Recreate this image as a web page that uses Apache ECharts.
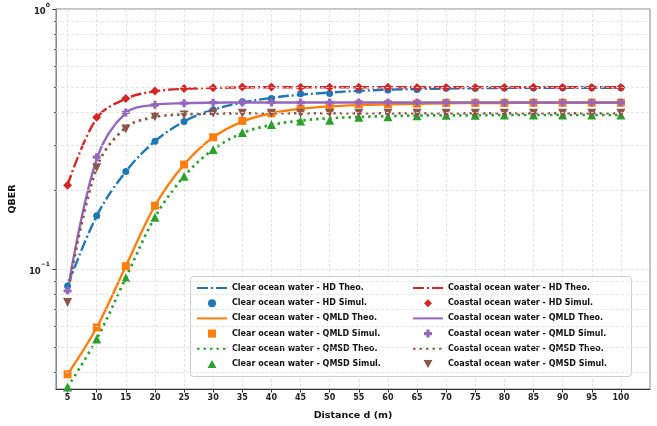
<!DOCTYPE html>
<html>
<head>
<meta charset="utf-8">
<script src="https://cdn.jsdelivr.net/npm/echarts@6/dist/echarts.min.js"></script>
<style>
  html, body { margin: 0; padding: 0; background: #fff; }
  #chart { width: 657px; height: 426px; }
</style>
</head>
<body>
<div id="chart"></div>
<script>
// distances (m)
const distances = [5, 10, 15, 20, 25, 30, 35, 40, 45, 50, 55, 60, 65, 70, 75, 80, 85, 90, 95, 100]
const xTicks = [5, 10, 15, 20, 25, 30, 35, 40, 45, 50, 55, 60, 65, 70, 75, 80, 85, 90, 95, 100]
const yMajor = [0.1, 1]
const yMinor = [0.04, 0.05, 0.06, 0.07, 0.08, 0.09, 0.2, 0.3, 0.4, 0.5, 0.6, 0.7, 0.8, 0.9]

// clear ocean water
const clearHdTheo = [0.0859, 0.160, 0.237, 0.310, 0.369, 0.410, 0.436, 0.455, 0.468, 0.477, 0.484, 0.489, 0.492, 0.494, 0.496, 0.497, 0.497, 0.498, 0.498, 0.498]
const clearHdSim = [0.0859, 0.160, 0.237, 0.310, 0.369, 0.409, 0.440, 0.452, 0.472, 0.473, 0.487, 0.488, 0.490, 0.495, 0.495, 0.497, 0.497, 0.498, 0.498, 0.498]
const clearQmldTheo = [0.0393, 0.0595, 0.1024, 0.175, 0.252, 0.321, 0.369, 0.397, 0.413, 0.422, 0.427, 0.430, 0.432, 0.434, 0.435, 0.435, 0.436, 0.436, 0.436, 0.436]
const clearQmldSim = [0.0393, 0.0595, 0.1024, 0.175, 0.252, 0.321, 0.371, 0.397, 0.414, 0.418, 0.430, 0.430, 0.432, 0.435, 0.435, 0.435, 0.436, 0.436, 0.436, 0.436]
const clearQmsdTheo = [0.0351, 0.0537, 0.0924, 0.158, 0.227, 0.288, 0.333, 0.358, 0.372, 0.380, 0.384, 0.387, 0.389, 0.390, 0.390, 0.391, 0.391, 0.391, 0.391, 0.391]
const clearQmsdSim = [0.0351, 0.0537, 0.0924, 0.158, 0.227, 0.288, 0.335, 0.359, 0.371, 0.373, 0.383, 0.385, 0.388, 0.390, 0.390, 0.391, 0.391, 0.391, 0.391, 0.391]

// coastal ocean water
const coastHdTheo = [0.210, 0.380, 0.452, 0.482, 0.493, 0.497, 0.499, 0.500, 0.500, 0.500, 0.500, 0.500, 0.500, 0.500, 0.500, 0.500, 0.500, 0.500, 0.500, 0.500]
const coastHdSim = [0.210, 0.383, 0.452, 0.484, 0.494, 0.498, 0.501, 0.501, 0.500, 0.500, 0.500, 0.500, 0.499, 0.499, 0.499, 0.499, 0.500, 0.499, 0.499, 0.499]
const coastQmldTheo = [0.0822, 0.265, 0.398, 0.428, 0.434, 0.436, 0.437, 0.437, 0.437, 0.437, 0.437, 0.437, 0.437, 0.437, 0.437, 0.437, 0.437, 0.437, 0.437, 0.437]
const coastQmldSim = [0.0822, 0.269, 0.400, 0.428, 0.434, 0.436, 0.437, 0.437, 0.437, 0.437, 0.437, 0.437, 0.437, 0.437, 0.437, 0.437, 0.437, 0.437, 0.437, 0.437]
const coastQmsdTheo = [0.0797, 0.245, 0.350, 0.384, 0.393, 0.396, 0.397, 0.397, 0.397, 0.397, 0.397, 0.397, 0.397, 0.397, 0.397, 0.397, 0.397, 0.397, 0.397, 0.397]
const coastQmsdSim = [0.0742, 0.245, 0.345, 0.385, 0.391, 0.397, 0.397, 0.397, 0.397, 0.397, 0.397, 0.397, 0.397, 0.397, 0.397, 0.397, 0.397, 0.397, 0.397, 0.397]

const FONT = 'DejaVu Sans'
const DASHDOT = [11, 3, 2, 3]
const DOTTED = [2.5, 4]
const SQUARE = 'path://M0,0H10V10H0Z'
const TRI_UP = 'path://M5,0L10,9H0Z'
const TRI_DOWN = 'path://M0,0H10L5,9Z'
const DIAMOND = 'path://M5,0L10,5L5,10L0,5Z'
const PLUS = 'path://M3,0H7V3H10V7H7V10H3V7H0V3H3Z'

const pairs = (ys) => distances.map((d, i) => [d, ys[i]])

function theo(name, ys, color, type) {
  return {
    name, type: 'line', data: pairs(ys), symbol: 'none', smooth: 0.35,
    lineStyle: { color, width: type === DOTTED ? 2.7 : 2.4, type },
    itemStyle: { color }, z: 2
  }
}
function simul(name, ys, color, symbol, size) {
  return {
    name, type: 'scatter', data: pairs(ys), symbol, symbolSize: size,
    itemStyle: { color, opacity: 1 }, z: 3
  }
}

const clearNames = [
  'Clear ocean water - HD Theo.', 'Clear ocean water - HD Simul.',
  'Clear ocean water - QMLD Theo.', 'Clear ocean water - QMLD Simul.',
  'Clear ocean water - QMSD Theo.', 'Clear ocean water - QMSD Simul.'
]
const coastNames = [
  'Coastal ocean water - HD Theo.', 'Coastal ocean water - HD Simul.',
  'Coastal ocean water - QMLD Theo.', 'Coastal ocean water - QMLD Simul.',
  'Coastal ocean water - QMSD Theo.', 'Coastal ocean water - QMSD Simul.'
]

const series = [
  theo(clearNames[0], clearHdTheo, '#1f77b4', DASHDOT),
  simul(clearNames[1], clearHdSim, '#1f77b4', 'circle', 7),
  theo(clearNames[2], clearQmldTheo, '#ff7f0e', 'solid'),
  simul(clearNames[3], clearQmldSim, '#ff7f0e', SQUARE, 8),
  theo(clearNames[4], clearQmsdTheo, '#2ca02c', DOTTED),
  simul(clearNames[5], clearQmsdSim, '#2ca02c', TRI_UP, 9),
  theo(coastNames[0], coastHdTheo, '#d62728', DASHDOT),
  simul(coastNames[1], coastHdSim, '#d62728', DIAMOND, 9),
  theo(coastNames[2], coastQmldTheo, '#9467bd', 'solid'),
  simul(coastNames[3], coastQmldSim, '#9467bd', PLUS, 8),
  theo(coastNames[4], coastQmsdTheo, '#8c564b', DOTTED),
  simul(coastNames[5], coastQmsdSim, '#8c564b', TRI_DOWN, 9)
]

// minor grid lines
series[0].markLine = {
  silent: true, symbol: 'none', label: { show: false },
  lineStyle: { color: '#dedede', type: [3, 2], width: 0.8 },
  data: yMinor.map(v => ({ yAxis: v }))
}

const legendIcons = ['circle', SQUARE, TRI_UP]
const legendIcons2 = [DIAMOND, PLUS, TRI_DOWN]
function legendData(names, icons) {
  return names.map((name, i) => (i % 2 === 0
    ? { name, itemStyle: { opacity: 0 } }
    : { name, icon: icons[(i - 1) / 2] }))
}

const legendCommon = {
  orient: 'vertical', padding: 0, itemWidth: 30, itemHeight: 8, itemGap: 6.2,
  symbolKeepAspect: true,
  textStyle: { fontFamily: FONT, fontWeight: 'bold', fontSize: 8, color: '#111', lineHeight: 9 },
  z: 5
}

const chart = echarts.init(document.getElementById('chart'))
chart.setOption({
  animation: false,
  backgroundColor: '#fff',
  grid: { left: 47, right: 7, top: 9, bottom: 33, show: true, borderColor: '#888', borderWidth: 1 },
  legend: [
    Object.assign({ left: 196, top: 283.5, data: legendData(clearNames, legendIcons) }, legendCommon),
    Object.assign({ left: 412, top: 283.5, data: legendData(coastNames, legendIcons2) }, legendCommon)
  ],
  graphic: [{
    type: 'rect', z: 4,
    shape: { x: 190.5, y: 276.5, width: 441, height: 100, r: 3 },
    style: { fill: 'rgba(255,255,255,0.85)', stroke: '#cccccc', lineWidth: 1 }
  }],
  xAxis: {
    type: 'value', min: 3, max: 105,
    name: 'Distance d (m)', nameLocation: 'middle', nameGap: 22,
    nameTextStyle: { fontFamily: FONT, fontWeight: 'bold', fontSize: 9.5, color: '#111' },
    axisLine: { lineStyle: { color: '#333', width: 1 } },
    axisTick: { show: true, customValues: xTicks, length: 3.5, lineStyle: { color: '#333' } },
    axisLabel: { customValues: xTicks, fontFamily: FONT, fontWeight: 'bold', fontSize: 8, color: '#222', margin: 5 },
    splitLine: { show: true, lineStyle: { color: '#dcdcdc', type: [3, 2], width: 0.8 } }
  },
  yAxis: [{
    type: 'log', logBase: 10, min: 0.0345, max: 1,
    name: 'QBER', nameLocation: 'middle', nameGap: 34, nameRotate: 90,
    nameTextStyle: { fontFamily: FONT, fontWeight: 'bold', fontSize: 9.5, color: '#111' },
    axisLine: { show: true, lineStyle: { color: '#888' } },
    axisTick: { show: true, customValues: yMajor, length: 3.5, lineStyle: { color: '#333' } },
    axisLabel: {
      customValues: yMajor, margin: 6,
      formatter: v => (v > 0.5 ? '{b|10}{s|0}' : '{b|10}{s|\u22121}'),
      rich: {
        b: { fontFamily: FONT, fontWeight: 'bold', fontSize: 8.5, color: '#222', lineHeight: 14, verticalAlign: 'bottom' },
        s: { fontFamily: FONT, fontWeight: 'bold', fontSize: 6, color: '#222', lineHeight: 14, verticalAlign: 'top' }
      }
    },
    splitLine: { show: true, lineStyle: { color: '#dcdcdc', type: [3, 2], width: 0.8 } }
  }, {
    type: 'log', logBase: 10, min: 0.0345, max: 1, position: 'left',
    axisLine: { show: false },
    axisTick: { show: true, customValues: yMinor, length: 2, lineStyle: { color: '#555' } },
    axisLabel: { show: false },
    splitLine: { show: false }
  }],
  series
})
</script>
</body>
</html>
